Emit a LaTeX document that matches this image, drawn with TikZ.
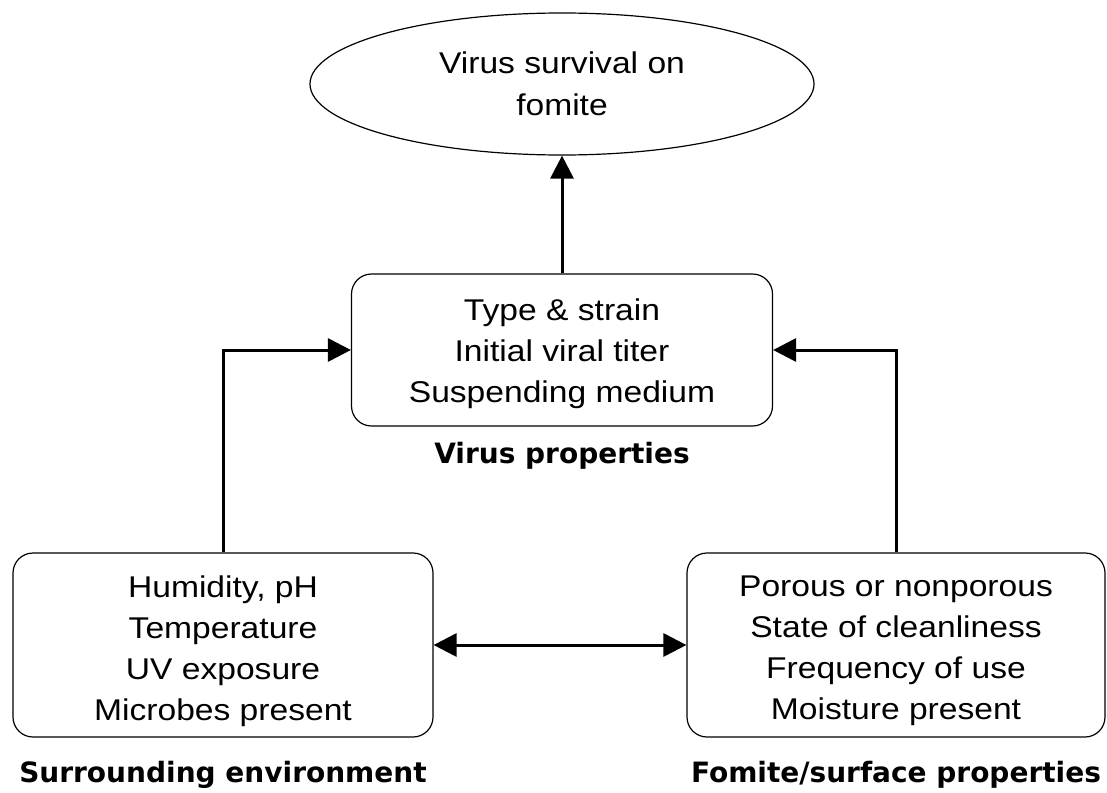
\documentclass[tikz,border=0pt]{standalone}
\usepackage{fontspec}
\setmainfont[FakeStretch=1.12]{Liberation Sans}
\newfontfamily\labfont{DejaVu Sans}
\usetikzlibrary{shapes.geometric,arrows.meta}
\begin{document}
\begin{tikzpicture}[x=1pt,y=-1pt,
  box/.style={draw,line width=1.2pt,rounded corners=20pt,inner sep=0pt},
  boxtext/.style={align=center,inner sep=0pt,font=\fontsize{30}{41}\selectfont},
  lab/.style={font=\labfont\bfseries\fontsize{28}{32}\selectfont},
  arr/.style={line width=3pt,-{Triangle[length=23pt,width=23pt]}},
  darr/.style={line width=3pt,{Triangle[length=23pt,width=23pt]}-{Triangle[length=23pt,width=23pt]}}]
\useasboundingbox (0,0) rectangle (1107,792);
\node[ellipse,draw,line width=1.2pt,minimum width=504pt,minimum height=142pt,inner sep=0pt,align=center,
  font=\fontsize{30}{42}\selectfont] (ell) at (562,84) {Virus survival on\\fomite};
\node[box,minimum width=421pt,minimum height=152pt] (vir) at (562,350) {};
\node[boxtext] (virtext) at (562,354) {Type \& strain\\Initial viral titer\\Suspending medium};
\node[lab] (virlab) at (562,456) {Virus properties};
\node[box,minimum width=420pt,minimum height=184pt] (env) at (223,645) {};
\node[boxtext] (envtext) at (223,651) {Humidity, pH\\Temperature\\UV exposure\\Microbes present};
\node[lab] (envlab) at (223,775) {Surrounding environment};
\node[box,minimum width=418pt,minimum height=184pt] (fom) at (896,645) {};
\node[boxtext] (fomtext) at (896,651) {Porous or nonporous\\State of cleanliness\\Frequency of use\\Moisture present};
\node[lab] (fomlab) at (896,775) {Fomite/surface properties};
\draw[arr] (vir.north) -- (ell.south);
\draw[arr] (env.north) |- (vir.west);
\draw[arr] (fom.north) |- (vir.east);
\draw[darr] (env.east) -- (fom.west);
\end{tikzpicture}
\end{document}
